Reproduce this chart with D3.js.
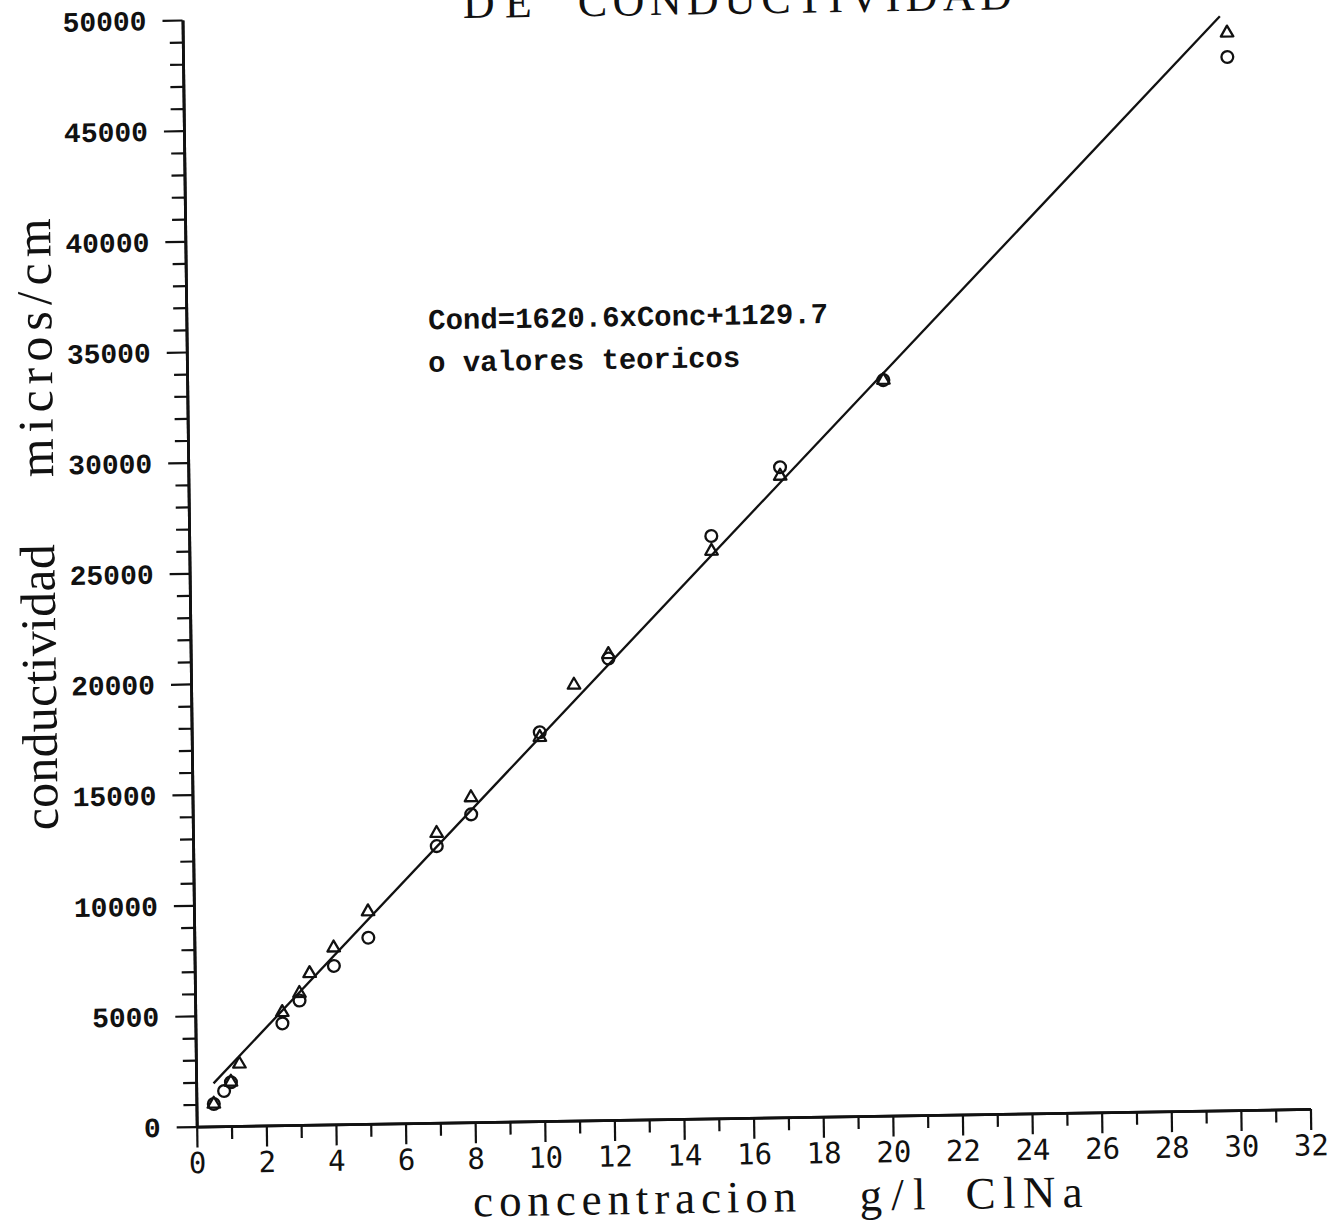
<!DOCTYPE html>
<html>
<head>
<meta charset="utf-8">
<script src="https://cdn.jsdelivr.net/npm/d3@7"></script>
<style>
  html, body { margin: 0; padding: 0; background: #fff; }
  svg { display: block; }
</style>
</head>
<body>
<svg id="chart" width="1342" height="1224"></svg>
<script>
// Measured conductivity (triangles), microS/cm vs. g/l of ClNa
const measuredConc = [0.5, 1, 1.25, 2.5, 3, 3.3, 4, 5, 7, 8, 10, 11, 12, 15, 17, 20, 30];
const measuredCond = [1010, 1990, 2800, 5100, 5950, 6840, 7980, 9590, 13080, 14670, 17340, 19680, 21040, 25630, 28970, 33230, 48670];

// Theoretical values (circles)
const theoryConc = [0.5, 0.8, 1, 2.5, 3, 4, 5, 7, 8, 10, 12, 15, 17, 20, 30];
const theoryCond = [1010, 1590, 1980, 4600, 5620, 7160, 8410, 12500, 13910, 17570, 20850, 26310, 29370, 33230, 47580];

// Least-squares fit: Cond = slope * Conc + intercept
const fitSlope = 1620.6;
const fitIntercept = 1129.7;
const fitRange = [0.5, 29.8];

// Axis ticks
const xMajorTicks = [0, 2, 4, 6, 8, 10, 12, 14, 16, 18, 20, 22, 24, 26, 28, 30, 32];
const xMinorTicks = [1, 3, 5, 7, 9, 11, 13, 15, 17, 19, 21, 23, 25, 27, 29, 31];
const yMajorTicks = [0, 5000, 10000, 15000, 20000, 25000, 30000, 35000, 40000, 45000, 50000];
const yMinorTicks = d3.range(1000, 50000, 1000).filter(v => v % 5000 !== 0);

// Text
const titleWords = ["DE", "CONDUCTIVIDAD"];
const equationText = "Cond=1620.6xConc+1129.7";
const legendText = "o valores teoricos";
const yTitleWords = ["conductividad", "micros/cm"];
const xTitleWords = ["concentracion", "g/l", "ClNa"];

const ink = "#111";
const W = 1113.9, H = 1106.7;

const x = d3.scaleLinear().domain([0, 32]).range([0, W]);
const y = d3.scaleLinear().domain([0, 50000]).range([H, 0]);

const svg = d3.select("#chart");

// The sheet sits slightly turned on the page; everything is drawn in its frame.
const page = svg.append("g")
  .attr("transform", "matrix(0.99987,-0.01588,0.01283,0.99992,182.5,20)");

function styleAxis(g, width) {
  g.attr("font-family", null).attr("font-size", null);
  g.select(".domain").attr("stroke", ink).attr("stroke-width", width);
  g.selectAll(".tick line").attr("stroke", ink).attr("stroke-width", 2.2);
}

// Y axis: minor ticks every 1000, labelled ticks every 5000
page.append("g")
  .call(d3.axisLeft(y).tickValues(yMinorTicks).tickSize(13).tickSizeOuter(0).tickFormat(""))
  .call(g => styleAxis(g, 2.8));

page.append("g")
  .call(d3.axisLeft(y).tickValues(yMajorTicks).tickSize(20).tickSizeOuter(0)
        .tickPadding(16).tickFormat(d3.format("d")))
  .call(g => styleAxis(g, 2.8))
  .call(g => g.selectAll(".tick text")
    .attr("fill", ink)
    .attr("font-family", "'Liberation Mono', monospace")
    .attr("font-weight", "bold")
    .attr("font-size", 28)
    .attr("dy", "0.33em"));

// X axis: minor ticks every 1, labelled ticks every 2
page.append("g")
  .attr("transform", `translate(0,${H})`)
  .call(d3.axisBottom(x).tickValues(xMinorTicks).tickSize(13).tickSizeOuter(0).tickFormat(""))
  .call(g => styleAxis(g, 2.8));

page.append("g")
  .attr("transform", `translate(0,${H})`)
  .call(d3.axisBottom(x).tickValues(xMajorTicks).tickSize(21).tickSizeOuter(0)
        .tickPadding(5).tickFormat(d3.format("d")))
  .call(g => styleAxis(g, 2.8))
  .call(g => g.selectAll(".tick text")
    .attr("fill", ink)
    .attr("font-family", "'DejaVu Sans Mono', monospace")
    .attr("font-size", 29));

// Fitted straight line
const fitLine = d3.line()
  .x(c => x(c))
  .y(c => y(fitSlope * c + fitIntercept));

page.append("path")
  .datum(fitRange)
  .attr("d", fitLine)
  .attr("fill", "none")
  .attr("stroke", ink)
  .attr("stroke-width", 2.3);

// Theoretical values: open circles
page.append("g")
  .selectAll("circle")
  .data(theoryConc.map((c, i) => [c, theoryCond[i]]))
  .join("circle")
  .attr("cx", d => x(d[0]))
  .attr("cy", d => y(d[1]))
  .attr("r", 5.9)
  .attr("fill", "none")
  .attr("stroke", ink)
  .attr("stroke-width", 2.3);

// Measured values: open triangles
const tri = d3.symbol(d3.symbolTriangle, 68);
page.append("g")
  .selectAll("path")
  .data(measuredConc.map((c, i) => [c, measuredCond[i]]))
  .join("path")
  .attr("d", tri)
  .attr("transform", d => `translate(${x(d[0])},${y(d[1])})`)
  .attr("fill", "none")
  .attr("stroke", ink)
  .attr("stroke-width", 2.3)
  .attr("stroke-linejoin", "round");

// Annotations inside the plot
page.append("text")
  .attr("x", 241.8).attr("y", 313.2)
  .attr("font-family", "'Liberation Mono', monospace")
  .attr("font-weight", "bold")
  .attr("font-size", 29)
  .attr("textLength", 400).attr("lengthAdjust", "spacingAndGlyphs")
  .attr("fill", ink)
  .text(equationText);

page.append("text")
  .attr("x", 241.3).attr("y", 355.6)
  .attr("font-family", "'Liberation Mono', monospace")
  .attr("font-weight", "bold")
  .attr("font-size", 29)
  .attr("textLength", 312).attr("lengthAdjust", "spacingAndGlyphs")
  .attr("fill", ink)
  .text(legendText);

// Title (second line, running off the top of the sheet)
const serif = "'Liberation Serif', 'Times New Roman', serif";
const titlePos = [[280.5, 69], [395.5, 434]];
titleWords.forEach((w, i) => {
  page.append("text")
    .attr("x", titlePos[i][0]).attr("y", 2.5)
    .attr("font-family", serif)
    .attr("font-size", 44)
    .attr("textLength", titlePos[i][1]).attr("lengthAdjust", "spacing")
    .attr("fill", ink)
    .text(w);
});

// Y axis title, rotated
const yTitlePos = [[808, 286], [455, 259]];
yTitleWords.forEach((w, i) => {
  page.append("text")
    .attr("transform", `translate(-135,${yTitlePos[i][0]}) rotate(-90)`)
    .attr("font-family", serif)
    .attr("font-size", 50)
    .attr("textLength", yTitlePos[i][1]).attr("lengthAdjust", "spacing")
    .attr("fill", ink)
    .text(w);
});

// X axis title
const xTitlePos = [[275.5, 323], [662, 66], [768, 117]];
xTitleWords.forEach((w, i) => {
  page.append("text")
    .attr("x", xTitlePos[i][0]).attr("y", 1201)
    .attr("font-family", serif)
    .attr("font-size", 45)
    .attr("textLength", xTitlePos[i][1]).attr("lengthAdjust", "spacing")
    .attr("fill", ink)
    .text(w);
});
</script>
</body>
</html>
